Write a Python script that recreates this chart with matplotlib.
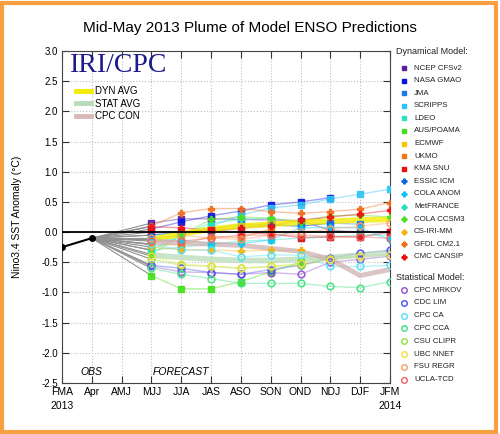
"""Mid-May 2013 IRI/CPC plume of ENSO model predictions (Nino3.4)."""
import matplotlib
matplotlib.use("Agg")
import matplotlib.pyplot as plt
from matplotlib.lines import Line2D
from matplotlib.patches import Rectangle
import numpy as np

plt.rcParams["font.family"] = ["Liberation Sans", "DejaVu Sans"]

seasons = ["FMA", "Apr", "AMJ", "MJJ", "JJA", "JAS", "ASO", "SON", "OND", "NDJ", "DJF", "JFM"]
obs_vals = [-0.25, -0.1]

# forecasts start at MJJ (index 3)
dyn_names = ["NCEP CFSv2", "NASA GMAO", "JMA", "SCRIPPS", "LDEO", "AUS/POAMA", "ECMWF",
             "UKMO", "KMA SNU", "ESSIC ICM", "COLA ANOM", "MetFRANCE", "COLA CCSM3",
             "CS-IRI-MM", "GFDL CM2.1", "CMC CANSIP"]
dyn_colors = ["#5a1fa0", "#0a14e0", "#1f78e8", "#30c4f4", "#2fe0c8", "#44e01c", "#f4c800",
              "#f07a12", "#e81010", "#1466e0", "#12c4f4", "#22e0c0", "#4ce020",
              "#f4b412", "#f26c1a", "#f01010"]
dyn_markers = ["s"] * 9 + ["P"] * 7
dyn_vals = [
    [0.15, 0.22, 0.22, 0.21, 0.20, 0.19, 0.03, 0.00, 0.00],
    [0.05, 0.17, 0.27, 0.35, 0.45, 0.50, 0.57],
    [-0.05, 0.00, 0.05, 0.13, 0.12, 0.10, 0.15, 0.13],
    [-0.13, -0.05, 0.10, 0.28, 0.40, 0.45, 0.55, 0.63, 0.71],
    [-0.30, -0.25, -0.20, -0.15, -0.13, -0.10, -0.08, -0.05, -0.05],
    [-0.72, -0.94, -0.94, -0.82, -0.66, -0.50],
    [-0.20, -0.05, 0.05, 0.10, 0.15],
    [-0.21, -0.21, -0.07, -0.09, 0.05],
    [0.00, 0.00, 0.03, 0.00, -0.03, -0.09, -0.08, -0.08, 0.00],
    [-0.05, 0.00, 0.00, 0.07, 0.12, 0.10, 0.15],
    [-0.13, -0.13, -0.19, -0.19, -0.13, 0.07, 0.08, 0.07, -0.13],
    [-0.30, -0.05, 0.15, 0.21, 0.23],
    [-0.37, -0.05, 0.21, 0.25, 0.23, 0.17, 0.27, 0.28, 0.25],
    [-0.25, -0.29, -0.30, -0.31, -0.30, -0.30],
    [0.10, 0.32, 0.39, 0.39, 0.34, 0.31, 0.34, 0.38, 0.49],
    [0.09, 0.07, 0.03, 0.07, 0.10, 0.20, 0.25, 0.30, 0.36],
]

stat_names = ["CPC MRKOV", "CDC LIM", "CPC CA", "CPC CCA", "CSU CLIPR", "UBC NNET",
              "FSU REGR", "UCLA-TCD"]
stat_colors = ["#9050d0", "#4a50f0", "#50e0f4", "#40e080", "#90e040", "#f0e040",
               "#f8a060", "#f06060"]
stat_vals = [
    [-0.57, -0.66, -0.67, -0.70, -0.67, -0.70, -0.50, -0.45, -0.40],
    [-0.55, -0.60, -0.67, -0.70, -0.62, -0.55, -0.43, -0.35, -0.30],
    [-0.20, -0.30, -0.30, -0.41, -0.38, -0.38, -0.57, -0.57, -0.55],
    [-0.60, -0.70, -0.77, -0.85, -0.85, -0.85, -0.90, -0.92, -0.82],
    [-0.45, -0.55, -0.57, -0.60, -0.57, -0.55, -0.45, -0.40],
    [-0.40, -0.53, -0.56, -0.60, -0.57, -0.52, -0.45, -0.40, -0.38],
    [-0.10, -0.05, -0.10, -0.12, -0.05, 0.00, 0.05, 0.10, 0.15],
    [-0.15, -0.15, -0.10, -0.05, -0.05, -0.05, -0.07, -0.08, -0.10],
]

dyn_avg = [-0.12, -0.03, 0.05, 0.10, 0.13, 0.16, 0.18, 0.20, 0.21]
stat_avg = [-0.38, -0.42, -0.45, -0.47, -0.47, -0.45, -0.42, -0.38, -0.35]
cpc_con = [-0.15, -0.18, -0.20, -0.22, -0.27, -0.32, -0.45, -0.72, -0.62]

fig = plt.figure(figsize=(5.0, 4.34), dpi=100)
ax = fig.add_axes([0.124, 0.1175, 0.656, 0.765])

x = np.arange(len(seasons))
x0 = 3  # MJJ

ax.axhline(0, color="black", lw=1.3, zorder=6)

# average / consensus lines
ax.plot(x[x0:x0 + len(dyn_avg)], dyn_avg, color="#f4ec00", lw=4, alpha=0.8, zorder=4)
ax.plot(x[x0:x0 + len(stat_avg)], stat_avg, color="#b8dcb8", lw=4, alpha=0.75, zorder=4)
ax.plot(x[x0:x0 + len(cpc_con)], cpc_con, color="#d0b0b0", lw=3.5, alpha=0.75, zorder=4)

all_vals = dyn_vals + stat_vals
# grey fan from last observation to the first forecast
for v in all_vals:
    ax.plot([x[1], x[x0]], [obs_vals[-1], v[0]], color="#909090", lw=0.8, zorder=2)

for v, c, m in zip(dyn_vals, dyn_colors, dyn_markers):
    xx = x[x0:x0 + len(v)]
    ax.plot(xx, v, color=c, lw=1, alpha=0.4, zorder=3)
    ax.plot(xx, v, ls="none", marker=m, ms=4.2, color=c, mec=c, alpha=0.9, zorder=5)

for v, c in zip(stat_vals, stat_colors):
    xx = x[x0:x0 + len(v)]
    ax.plot(xx, v, color=c, lw=1, alpha=0.4, zorder=3)
    ax.plot(xx, v, ls="none", marker="o", ms=4.8, mfc="none", mec=c, mew=1.2, alpha=0.9,
            zorder=5)

ax.plot(x[:2], obs_vals, color="black", lw=1.5, marker="o", ms=4, zorder=7)

ax.set_xlim(0, 11)
ax.set_ylim(-2.5, 3.0)
ax.set_xticks(x)
ax.set_xticklabels(seasons, fontsize=7.5)
ax.set_yticks(np.arange(-2.5, 3.01, 0.5))
ax.set_yticklabels([f"{t:.1f}" for t in np.arange(-2.5, 3.01, 0.5)], fontsize=7)
ax.tick_params(direction="in", length=5, top=True, right=True, colors="#333333",
               labelcolor="black", pad=3)
ax.grid(True, ls=":", color="#c0c0c0", lw=0.8)
for s in ax.spines.values():
    s.set_color("#444444")
ax.set_ylabel("Nino3.4 SST Anomaly (\u00b0C)", fontsize=7.5, labelpad=14)

ax.text(0, -0.055, "2013", transform=ax.get_xaxis_transform(), ha="center", va="top", fontsize=7.5)
ax.text(11, -0.055, "2014", transform=ax.get_xaxis_transform(), ha="center", va="top", fontsize=7.5)
ax.text(1, -2.4, "OBS", ha="center", va="bottom", fontsize=7.5, style="italic")
ax.text(4, -2.4, "FORECAST", ha="center", va="bottom", fontsize=7.5, style="italic")

ax.text(0.025, 0.995, "IRI/CPC", transform=ax.transAxes, ha="left", va="top",
        family=["Liberation Serif", "DejaVu Serif"], fontsize=20, color="#1c1c8c")
avg_handles = [Line2D([], [], color="#f4ec00", lw=3.5, label="DYN AVG"),
               Line2D([], [], color="#b8dcb8", lw=3.5, label="STAT AVG"),
               Line2D([], [], color="#dcb8b8", lw=3.5, label="CPC CON")]
ax.legend(handles=avg_handles, loc="upper left", bbox_to_anchor=(0.03, 0.905),
          frameon=False, fontsize=7, handlelength=1.6, handletextpad=0.4,
          labelspacing=0.25, borderaxespad=0)

fig.text(0.5, 0.935, "Mid-May 2013 Plume of Model ENSO Predictions", ha="center",
         va="center", fontsize=11)

# model key on the right
W, H = 500.0, 434.0
fig.text(396 / W, 1 - 52 / H, "Dynamical Model:", fontsize=6.5, va="center", color="#222222")
y = 68
for n, c, m in zip(dyn_names, dyn_colors, dyn_markers):
    fig.add_artist(Line2D([404 / W], [1 - y / H], marker=m, ms=3.5, color=c, mec=c,
                          transform=fig.transFigure))
    fig.text(414 / W, 1 - y / H, n, fontsize=5.7, va="center", color="#222222")
    y += 12.6
fig.text(396 / W, 1 - 277 / H, "Statistical Model:", fontsize=6.5, va="center", color="#222222")
y = 290
for n, c in zip(stat_names, stat_colors):
    fig.add_artist(Line2D([404 / W], [1 - y / H], marker="o", ms=4, mfc="none", mec=c,
                          mew=1, transform=fig.transFigure))
    fig.text(414 / W, 1 - y / H, n, fontsize=5.7, va="center", color="#222222")
    y += 12.8

fig.add_artist(Rectangle((0.003, 0.004), 0.988, 0.99, transform=fig.transFigure,
                         fill=False, edgecolor="#f7a040", lw=3))

fig.savefig("out.png", dpi=100)
